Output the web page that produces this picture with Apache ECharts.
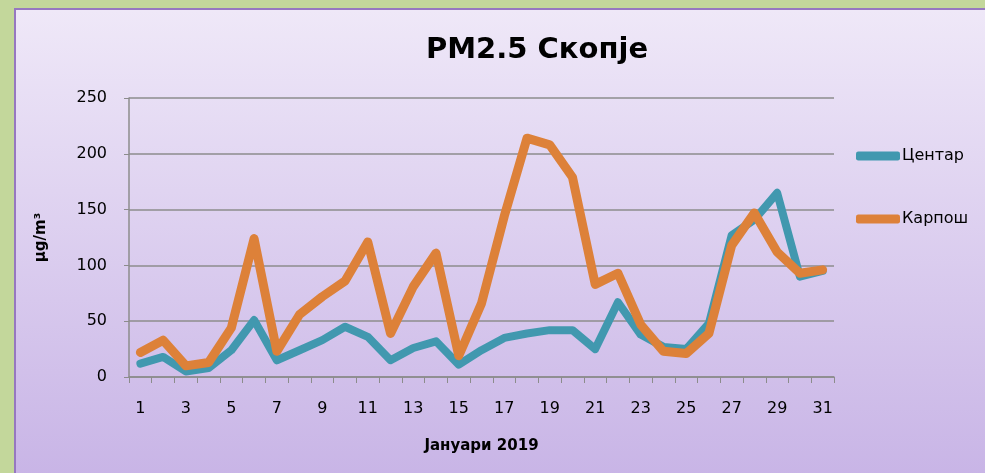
<!DOCTYPE html>
<html>
<head>
<meta charset="utf-8">
<script src="https://cdn.jsdelivr.net/npm/echarts@6/dist/echarts.min.js"></script>
<style>
  html, body { margin: 0; padding: 0; }
  body { width: 985px; height: 473px; background: #c3d79b; position: relative; overflow: hidden; }
  #panel {
    position: absolute; left: 14px; top: 8px; width: 975px; height: 470px;
    border-top: 2px solid #9678c0; border-left: 2px solid #9678c0;
    background: linear-gradient(#efe8f8, #c8b4e6);
  }
  #chart { position: absolute; left: 0; top: 0; width: 985px; height: 473px; }
</style>
</head>
<body>
<div id="panel"></div>
<div id="chart"></div>
<script>
// дневни вредности PM2.5, јануари 2019
const days = []
for (let d = 1; d <= 31; d++) days.push(String(d))

const centar = [12, 18, 5, 8, 24, 51, 15, 24, 33, 45, 36, 15, 26, 32, 11,
  24, 35, 39, 42, 42, 25, 67, 38, 27, 25, 48, 127, 141, 165, 90, 95]
const karposh = [22, 33, 10, 13, 44, 124, 23, 56, 72, 86, 121, 39, 81, 111, 19,
  66, 144, 214, 208, 179, 83, 93, 47, 23, 21, 39, 118, 147, 112, 93, 96]

const yTicks = [0, 50, 100, 150, 200, 250]

const font = 'DejaVu Sans'
const chart = echarts.init(document.getElementById('chart'))

chart.setOption({
  backgroundColor: 'transparent',
  animation: false,
  title: {
    text: 'PM2.5 Скопје',
    left: 532,
    top: 31,
    textAlign: 'center',
    textStyle: { fontFamily: font, fontSize: 29, fontWeight: 'bold', color: '#000' }
  },
  legend: {
    orient: 'vertical',
    left: 851,
    top: 143,
    itemGap: 47,
    itemWidth: 44,
    itemHeight: 9,
    icon: 'roundRect',
    textStyle: { fontFamily: font, fontSize: 16, color: '#000', padding: [0, 0, 0, -3] },
    data: ['Центар', 'Карпош']
  },
  grid: { left: 129, right: 151, top: 98, bottom: 96 },
  xAxis: {
    type: 'category',
    data: days,
    boundaryGap: true,
    name: 'Јануари 2019',
    nameLocation: 'middle',
    nameGap: 62,
    nameTextStyle: { fontFamily: font, fontSize: 15, fontWeight: 'bold', color: '#000' },
    axisLine: { lineStyle: { color: '#8c8c8c', width: 1.5 } },
    axisTick: { show: true, length: 6, interval: 0, lineStyle: { color: '#8c8c8c' } },
    axisLabel: { interval: 1, margin: 24, fontFamily: font, fontSize: 16, color: '#000' },
    splitLine: { show: false }
  },
  yAxis: {
    type: 'value',
    min: yTicks[0],
    max: yTicks[yTicks.length - 1],
    interval: 50,
    name: 'µg/m³',
    nameLocation: 'middle',
    nameGap: 80,
    nameRotate: 90,
    nameTextStyle: { fontFamily: font, fontSize: 15, fontWeight: 'bold', color: '#000' },
    axisLine: { show: true, lineStyle: { color: '#8c8c8c', width: 1.5 } },
    axisTick: { show: true, length: 5, lineStyle: { color: '#8c8c8c' } },
    axisLabel: { margin: 22, fontFamily: font, fontSize: 16, color: '#000' },
    splitLine: { lineStyle: { color: '#8c8c8c', width: 1.5 } }
  },
  series: [
    {
      name: 'Центар',
      type: 'line',
      data: centar,
      symbol: 'none',
      itemStyle: { color: '#4198af' },
      lineStyle: { color: '#4198af', width: 8, join: 'round', cap: 'round' }
    },
    {
      name: 'Карпош',
      type: 'line',
      data: karposh,
      symbol: 'none',
      itemStyle: { color: '#dd8139' },
      lineStyle: { color: '#dd8139', width: 9, join: 'round', cap: 'round' }
    }
  ]
})
</script>
</body>
</html>
